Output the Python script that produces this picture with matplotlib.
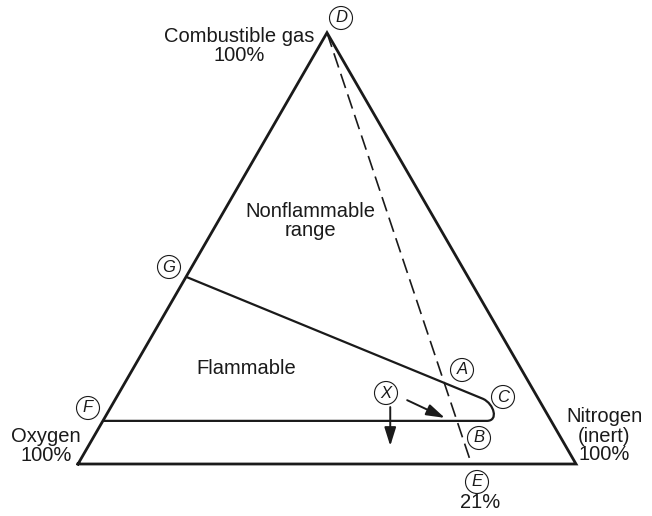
import numpy as np
import matplotlib
matplotlib.use('Agg')
import matplotlib.pyplot as plt
from matplotlib.path import Path
from matplotlib.patches import PathPatch, Circle

plt.rcParams['font.family'] = ['Liberation Sans', 'DejaVu Sans']

# compositions in percent: (combustible, oxygen); nitrogen is the rest
triangle_c = [0, 0, 100, 0]
triangle_o = [100, 0, 0, 100]

# air line from pure fuel (D) to air (E, 21% O2)
air_c = [100, 0]
air_o = [0, 21]

# flammable envelope G -> upper limit -> rounded nose C -> lower limit -> F
env_c = [43.4, 15.1, 13.9, 10.0, 10.0, 10.0]
env_o = [56.6, 11.1, 9.5, 10.5, 12.9, 90.0]
env_codes = [Path.MOVETO, Path.LINETO, Path.CURVE4, Path.CURVE4, Path.CURVE4, Path.LINETO]

# mixture X and the two moves away from it
arrow_tail_c = [14.8, 13.2]
arrow_tail_o = [26.5, 30.7]
arrow_tip_c = [10.7, 4.2]
arrow_tip_o = [21.0, 35.2]


def tern(c, o):
    c = np.asarray(c, float) / 100
    o = np.asarray(o, float) / 100
    n = 1 - c - o
    return n + c / 2, c * np.sqrt(3) / 2


S = 498.0  # pixels per unit side


def px(x, y):
    # pixel position in the 652x516 picture -> data coords
    return (x - 78) / S, (464 - y) / S


fig = plt.figure(figsize=(6.52, 5.16), dpi=100)
ax = fig.add_axes([0, 0, 1, 1])
ax.set_xlim(-78 / S, 574 / S)
ax.set_ylim(-52 / S, 464 / S)
ax.axis('off')

ink = '#1a1a1a'

tx, ty = tern(triangle_c, triangle_o)
ax.plot(tx, ty, color=ink, lw=2.0, solid_joinstyle='miter')

ax_, ay_ = tern(air_c, air_o)
ax.plot(ax_, ay_, color=ink, lw=1.2, dashes=(9, 4))

ex, ey = tern(env_c, env_o)
ax.add_patch(PathPatch(Path(np.column_stack([ex, ey]), env_codes),
                       fill=False, edgecolor=ink, lw=1.6))

atx, aty = tern(arrow_tail_c, arrow_tail_o)
ahx, ahy = tern(arrow_tip_c, arrow_tip_o)
for i in range(len(atx)):
    ax.annotate('', xy=(ahx[i], ahy[i]), xytext=(atx[i], aty[i]),
                arrowprops=dict(arrowstyle='-|>,head_length=0.7,head_width=0.22',
                                color=ink, lw=1.4,
                                mutation_scale=16, shrinkA=0, shrinkB=0))

# circled point letters
letters = ['D', 'G', 'A', 'C', 'B', 'E', 'F', 'X']
letter_px = [(341, 18), (169, 267), (462, 370), (503, 397),
             (479, 438), (477, 482), (88, 408), (386, 393)]
for name, (lx, ly) in zip(letters, letter_px):
    cx, cy = px(lx, ly)
    ax.add_patch(Circle((cx, cy), 11.5 / S, fill=False, edgecolor=ink, lw=0.8))
    ax.text(cx, cy, name, ha='center', va='center', fontsize=12,
            style='italic', color=ink)

labels = ['Combustible gas\n100%', 'Oxygen\n100%', 'Nitrogen\n(inert)\n100%',
          '21%', 'Nonflammable\nrange', 'Flammable']
label_px = [(239, 46), (46, 446), (604, 436), (480, 503), (310, 221), (246, 369)]
for s, (lx, ly) in zip(labels, label_px):
    x, y = px(lx, ly)
    ax.text(x, y, s, ha='center', va='center', fontsize=14.5,
            color=ink, linespacing=1.0)

fig.savefig('out.png', dpi=100)
